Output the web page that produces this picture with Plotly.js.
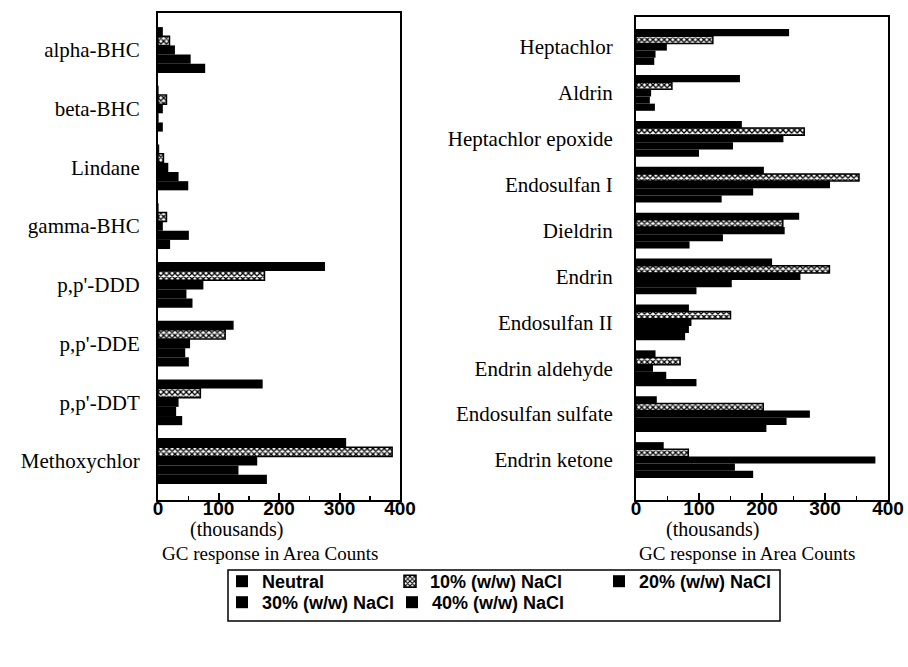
<!DOCTYPE html>
<html>
<head>
<meta charset="utf-8">
<script src="https://cdn.plot.ly/plotly-3.0.1.min.js"></script>
<style>html,body{margin:0;padding:0;background:#fff;}</style>
</head>
<body>
<div id="chart" style="width:908px;height:667px;"></div>
<script>
// ---- Data (GC response in area counts, thousands) ----
const seriesNames = ["Neutral", "10% (w/w) NaCl", "20% (w/w) NaCl", "30% (w/w) NaCl", "40% (w/w) NaCl"];

const leftCategories = ["alpha-BHC", "beta-BHC", "Lindane", "gamma-BHC", "p,p'-DDD", "p,p'-DDE", "p,p'-DDT", "Methoxychlor"];
const leftNeutral = [8, 1, 2, 1, 276, 125, 173, 311];
const left10 = [19, 14, 9, 14, 176, 111, 70, 387];
const left20 = [28, 8, 17, 8, 75, 53, 34, 164];
const left30 = [54, 1, 34, 51, 47, 45, 30, 133];
const left40 = [78, 8, 50, 20, 57, 51, 40, 180];

const rightCategories = ["Heptachlor", "Aldrin", "Heptachlor epoxide", "Endosulfan I", "Dieldrin", "Endrin", "Endosulfan II", "Endrin aldehyde", "Endosulfan sulfate", "Endrin ketone"];
const rightNeutral = [243, 165, 168, 203, 259, 216, 84, 31, 33, 44];
const right10 = [122, 57, 267, 354, 233, 307, 150, 70, 202, 83];
const right20 = [49, 24, 234, 308, 236, 261, 88, 27, 276, 380];
const right30 = [31, 22, 154, 186, 138, 152, 84, 48, 239, 157];
const right40 = [29, 30, 100, 136, 85, 96, 78, 96, 207, 186];

const xTickVals = [0, 100, 200, 300, 400];

// ---- Styles ----
const solid = {color: "#000", line: {width: 0}};
const hatched = {
  color: "#fff",
  line: {color: "#000", width: 1.5},
  pattern: {shape: "x", fgcolor: "#000", bgcolor: "#fff", size: 4, solidity: 0.55, fillmode: "replace"}
};
const markers = [solid, hatched, solid, solid, solid];
const legendIds = ["legend", "legend2", "legend3", "legend4", "legend5"];

const leftVals = [leftNeutral, left10, left20, left30, left40];
const rightVals = [rightNeutral, right10, right20, right30, right40];

const traces = [];
seriesNames.forEach((name, i) => {
  traces.push({
    type: "bar", orientation: "h", name: name, legendgroup: name, legend: legendIds[i],
    x: leftVals[i], y: leftCategories, xaxis: "x", yaxis: "y",
    marker: markers[i], showlegend: true, hoverinfo: "x+y+name"
  });
});
seriesNames.forEach((name, i) => {
  traces.push({
    type: "bar", orientation: "h", name: name, legendgroup: name, legend: legendIds[i],
    x: rightVals[i], y: rightCategories, xaxis: "x2", yaxis: "y2",
    marker: markers[i], showlegend: false, hoverinfo: "x+y+name"
  });
});

const W = 908, H = 667;
const serif = "Liberation Serif, Times New Roman, serif";
const sans = "Liberation Sans, Arial, sans-serif";
const tickFont = {family: sans, size: 19, color: "#000", weight: "bold"};
const catFont = {family: serif, size: 21, color: "#000"};

function xAxis(domain, anchor) {
  return {
    domain: domain, anchor: anchor, range: [0, 400], autorange: false,
    tickvals: xTickVals, ticktext: xTickVals.map(String),
    ticks: "inside", ticklen: 7, tickwidth: 2, tickcolor: "#000",
    minor: {ticks: "inside", dtick: 50, tick0: 0, ticklen: 4, tickwidth: 1.5, tickcolor: "#000"},
    showline: true, mirror: true, linecolor: "#000", linewidth: 2,
    showgrid: false, zeroline: false, tickfont: tickFont, ticklabelstandoff: -10,
    automargin: false, fixedrange: true
  };
}
function yAxis(domain, anchor, range, standoff) {
  return {
    domain: domain, anchor: anchor, type: "category", range: range, autorange: false,
    ticks: "", showline: true, mirror: true, linecolor: "#000", linewidth: 2,
    showgrid: false, zeroline: false, tickfont: catFont, ticklabelstandoff: standoff,
    automargin: false, fixedrange: true
  };
}
function legendAt(px, py) {
  return {
    orientation: "h", xanchor: "left", yanchor: "top", x: px / W, y: 1 - py / H,
    borderwidth: 0, bgcolor: "rgba(0,0,0,0)",
    font: {family: sans, size: 18, color: "#000", weight: "bold"},
    traceorder: "normal", itemclick: false
  };
}

const layout = {
  width: W, height: H,
  margin: {l: 0, r: 0, t: 0, b: 0, autoexpand: false},
  paper_bgcolor: "#fff", plot_bgcolor: "#fff",
  barmode: "group", bargap: 0.22, bargroupgap: 0,
  xaxis: xAxis([158 / W, 400 / W], "y"),
  yaxis: yAxis([1 - 500 / H, 1 - 13 / H], "x", [7.664, -0.63], 12),
  xaxis2: xAxis([636 / W, 888 / W], "y2"),
  yaxis2: yAxis([1 - 500 / H, 1 - 17 / H], "x2", [9.871, -0.654], 17),
  showlegend: true,
  legend: legendAt(222, 563),
  legend2: legendAt(390, 563),
  legend3: legendAt(599, 563),
  legend4: legendAt(222, 584),
  legend5: legendAt(392, 584),
  shapes: [
    {type: "rect", xref: "paper", yref: "paper", x0: 228 / W, x1: 780 / W, y0: 1 - 570 / H, y1: 1 - 621 / H,
     line: {color: "#000", width: 1.5}, fillcolor: "rgba(0,0,0,0)", layer: "below"}
  ],
  annotations: [
    {text: "(thousands)", x: 236 / W, y: 1 - 529 / H, xref: "paper", yref: "paper", showarrow: false, xanchor: "center", yanchor: "middle", font: {family: serif, size: 20, color: "#000"}},
    {text: "(thousands)", x: 712 / W, y: 1 - 529 / H, xref: "paper", yref: "paper", showarrow: false, xanchor: "center", yanchor: "middle", font: {family: serif, size: 20, color: "#000"}},
    {text: "GC response in Area Counts", x: 160 / W, y: 1 - 553 / H, xref: "paper", yref: "paper", showarrow: false, xanchor: "left", yanchor: "middle", font: {family: serif, size: 19, color: "#000"}},
    {text: "GC response in Area Counts", x: 637 / W, y: 1 - 553 / H, xref: "paper", yref: "paper", showarrow: false, xanchor: "left", yanchor: "middle", font: {family: serif, size: 19, color: "#000"}}
  ]
};

Plotly.newPlot("chart", traces, layout, {displayModeBar: false, staticPlot: true});
</script>
</body>
</html>
